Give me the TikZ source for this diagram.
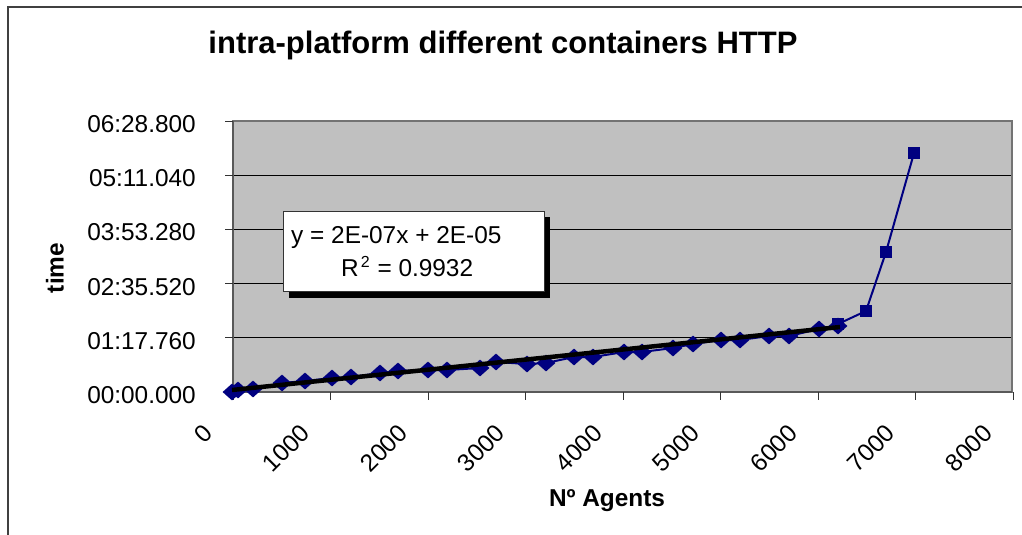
\documentclass[tikz,border=0pt]{standalone}
\usepackage{fontspec}
\setmainfont{Liberation Sans}
\usetikzlibrary{shapes.geometric}
\definecolor{plotgray}{HTML}{C0C0C0}
\definecolor{navy}{HTML}{000080}
\begin{document}
\begin{tikzpicture}[x=1pt,y=-1pt,
  lbl/.style={font=\fontsize{24.4}{29}\selectfont, inner sep=0pt},
  boldlbl/.style={font=\bfseries\fontsize{24.4}{29}\selectfont, inner sep=0pt},
  dmark/.style={diamond, fill=navy, inner sep=0pt, minimum width=19pt, minimum height=17pt},
  smark/.style={rectangle, fill=navy, inner sep=0pt, minimum size=12.5pt},
  serline/.style={navy, line width=2pt},
  trend/.style={black, line width=4.5pt},
  grid/.style={black, line width=1pt},
  axisline/.style={black!65, line width=1.5pt},
  tick/.style={black!80, line width=1pt}]
\useasboundingbox (0,0) rectangle (1022,535);
\fill[white] (0,0) rectangle (1022,535);

% chart frame
\draw[black!75, line width=1.5pt] (8,560) -- (8,7) -- (1040,7);

% title
\node[font=\bfseries\fontsize{31}{36}\selectfont, inner sep=0pt] (title) at (503,45) {intra-platform different containers HTTP};

% plot area and grid
\fill[plotgray] (233,121) rectangle (1012,392);
\foreach \y in {175.2,229.4,283.6,337.8}
  \draw[grid] (233,\y) -- (1012,\y);
\draw[black!55, line width=1.5pt] (233,121) rectangle (1012,392);
\draw[axisline] (233,121) -- (233,392) -- (1012,392);

% y axis ticks and labels
\foreach \y/\t in {121/06:28.800, 175.2/05:11.040, 229.4/03:53.280, 283.6/02:35.520, 337.8/01:17.760, 392/00:00.000}{
  \draw[tick] (225,\y) -- (233,\y);
  \node[lbl, anchor=east] at (196,\y+3) {\t};
}

% x axis ticks and labels
\foreach \k in {0,...,8}{
  \pgfmathsetmacro{\xx}{233+97.5*\k}
  \pgfmathtruncatemacro{\v}{1000*\k}
  \draw[tick] (\xx,392) -- (\xx,400);
  \node[lbl, anchor=east, rotate=45] at (\xx-25,429) {\v};
}

% axis titles
\node[boldlbl, rotate=90] (ytitle) at (55,268) {time};
\node[boldlbl] (xtitle) at (607,501) {Nº Agents};

% series 1 (diamonds)
\foreach \i/\x/\y in {1/232/392, 2/238/390, 3/253/389, 4/282/383, 5/305/381, 6/332/378,
  7/351/377, 8/380/373, 9/398/371, 10/428/370, 11/447/370, 12/480/368, 13/496/362,
  14/527/364, 15/546/363, 16/574/357, 17/593/357, 18/624/352, 19/642/352, 20/673/348,
  21/693/344, 22/721/340, 23/740/340, 24/769/336, 25/789/336, 26/819/329, 27/838/326}
  \coordinate (p\i) at (\x,\y);
\draw[serline] (p1) \foreach \i in {2,...,27}{ -- (p\i)};
\foreach \i in {1,...,27}
  \node[dmark] (d\i) at (p\i) {};

% series 2 (squares)
\foreach \i/\x/\y in {1/838/324, 2/866/311, 3/886/252, 4/914/153}
  \coordinate (q\i) at (\x,\y);
\draw[serline] (q1) -- (q2) -- (q3) -- (q4);
\foreach \i in {1,...,4}
  \node[smark] (s\i) at (q\i) {};

% linear trend line
\coordinate (t0) at (232,390);
\coordinate (t1) at (840,327);
\draw[trend] (t0) -- (t1);

% trend equation label
\fill[black] (289,217) rectangle (550,298);
\draw[black!80, fill=white, line width=1pt] (283,211) rectangle (544,291);
\node[lbl, anchor=base west] (eq) at (291,243) {y = 2E-07x + 2E-05};
\node[lbl, anchor=base west] (rsq) at (341,276) {R\kern2pt\raisebox{9pt}{\fontsize{16}{16}\selectfont 2}\kern1pt{} = 0.9932};
\end{tikzpicture}
\end{document}
